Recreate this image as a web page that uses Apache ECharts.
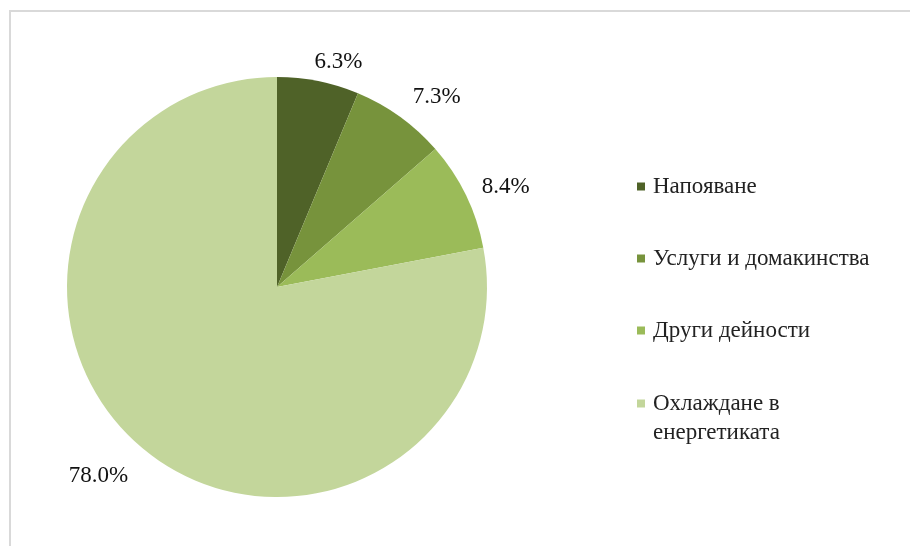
<!DOCTYPE html>
<html>
<head>
<meta charset="utf-8">
<script src="https://cdn.jsdelivr.net/npm/echarts@6/dist/echarts.min.js"></script>
<style>
  html, body { margin: 0; padding: 0; background: #fff; }
  #main { width: 910px; height: 546px; }
</style>
</head>
<body>
<div id="main"></div>
<script>
// categories and shares (%)
var names = ['Напояване', 'Услуги и домакинства', 'Други дейности', 'Охлаждане в енергетиката'];
var shares = [6.3, 7.3, 8.4, 78.0];
var colors = ['#4f6228', '#77933c', '#9bbb59', '#c3d69b'];

var myChart = echarts.init(document.getElementById('main'));

var pieData = [];
for (var i = 0; i < names.length; i++) {
  pieData.push({ name: names[i], value: shares[i] });
}

var legendText = {
  fontFamily: 'Liberation Serif',
  fontSize: 23,
  color: '#222',
  lineHeight: 29,
  padding: [0, 0, 0, 3]
};

// small nudges so labels sit where the original puts them
var nudge = [[-4, 2], [4, -2], [0, 1], [-5, 10]];

var option = {
  backgroundColor: '#fff',
  color: colors,
  animation: false,
  graphic: [{
    type: 'rect',
    shape: { x: 10, y: 11, width: 930, height: 580 },
    style: { fill: 'none', stroke: '#d9d9d9', lineWidth: 2 },
    silent: true
  }],
  legend: [{
    orient: 'vertical',
    left: 632,
    top: 167,
    itemWidth: 8,
    itemHeight: 8,
    itemGap: 43,
    icon: 'rect',
    data: names.slice(0, 3),
    textStyle: legendText
  }, {
    // two-line entry: blank first line keeps the square beside "Охлаждане в"
    orient: 'vertical',
    left: 632,
    top: 355,
    itemWidth: 8,
    itemHeight: 8,
    icon: 'rect',
    data: names.slice(3),
    formatter: function (name) {
      return '\u00a0\n' + name.replace(' енергетиката', '\nенергетиката');
    },
    textStyle: legendText
  }],
  series: [{
    type: 'pie',
    center: [277, 287],
    radius: 210,
    startAngle: 90,
    clockwise: true,
    data: pieData,
    label: {
      show: true,
      position: 'outside',
      formatter: function (p) { return p.value.toFixed(1) + '%'; },
      fontFamily: 'Liberation Serif',
      fontSize: 23,
      color: '#111',
      distanceToLabelLine: -4,
      padding: [16, 0, 0, 0]
    },
    labelLayout: function (params) {
      var n = nudge[params.dataIndex];
      return { dx: n[0], dy: n[1] };
    },
    labelLine: { show: false, length: 22, length2: 0 },
    itemStyle: { borderColor: '#fff', borderWidth: 0 }
  }]
};

myChart.setOption(option);
</script>
</body>
</html>
